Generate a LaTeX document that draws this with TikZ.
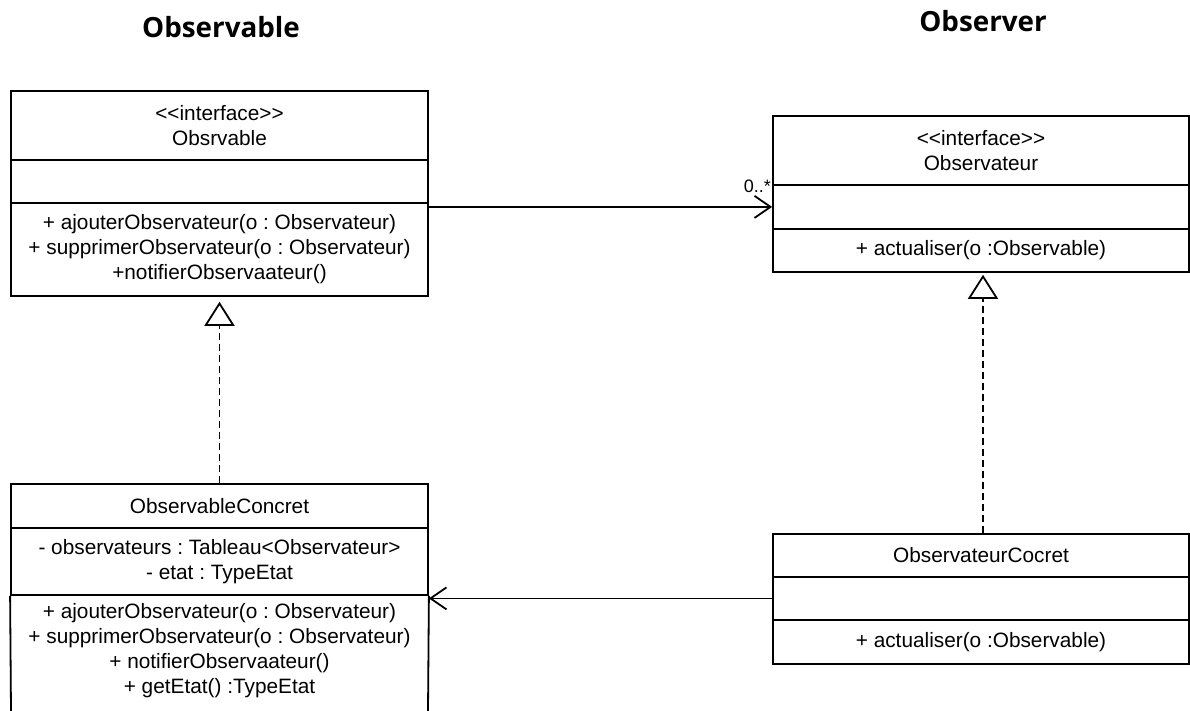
\documentclass[tikz,border=0pt]{standalone}
\usepackage{fontspec}
\setmainfont{Liberation Sans}
\newfontfamily\titlefont{Open Sans}
\usetikzlibrary{arrows.meta,calc}
\frenchspacing
\tikzset{
  comp/.style={draw, line width=1.8pt, inner sep=0pt, align=center, anchor=north,
    font=\fontsize{20.8}{25}\selectfont},
  wideL/.style={minimum width=417pt},
  wideR/.style={minimum width=416pt},
  txt/.style={inner sep=0pt, align=center, font=\fontsize{20.8}{25}\selectfont},
  ttl/.style={font=\titlefont\bfseries\fontsize{27.8}{30}\selectfont, inner sep=0pt},
  assoc/.style={line width=1.8pt, -{Straight Barb[length=16pt,width=22pt,line width=1.8pt]}},
  realize/.style={line width=1.8pt, dash pattern=on 7pt off 4pt,
    -{Triangle[open,length=24pt,width=30pt,line width=1.8pt]}},
  mult/.style={inner sep=0pt, font=\fontsize{18}{18}\selectfont}
}
\begin{document}
\begin{tikzpicture}[x=1pt,y=-1pt]
\useasboundingbox (0,0) rectangle (1190,711);
% titles
\node[ttl] (t1) at (221,27) {Observable};
\node[ttl] (t2) at (983,21) {Observer};
% top-left interface
\node[comp,wideL,minimum height=69pt] (tlName) at (219.5,90) {<\kern0pt<interface>\kern0pt>\\Obsrvable};
\node[comp,wideL,minimum height=43pt] (tlAttr) at (219.5,159) {};
\node[comp,wideL,minimum height=93pt] (tlOps) at (219.5,202)
  {+ ajouterObservateur(o : Observateur)\\+ supprimerObservateur(o : Observateur)\\+notifierObservaateur()};
% top-right interface
\node[comp,wideR,minimum height=69pt] (trName) at (981,115) {<\kern0pt<interface>\kern0pt>\\Observateur};
\node[comp,wideR,minimum height=44pt] (trAttr) at (981,184) {};
\node[comp,wideR,minimum height=43pt] (trOps) at (981,228) {+ actualiser(o :Observable)};
% bottom-left concrete
\node[comp,wideL,minimum height=44pt] (blName) at (219.5,483) {ObservableConcret};
\node[comp,wideL,minimum height=67pt] (blAttr) at (219.5,527)
  {- observateurs : Tableau<Observateur>\\- etat : TypeEtat};
\node[txt] (blOps) at (219.5,651)
  {+ ajouterObservateur(o : Observateur)\\+ supprimerObservateur(o : Observateur)\\+ notifierObservaateur()\\+ getEtat() :TypeEtat};
\coordinate (blL) at (11,711);
\coordinate (blR) at (428,711);
\draw[line width=1.8pt] (blAttr.south west) -- (blL);
\draw[line width=1.8pt] (blAttr.south east) -- (blR);
% bottom-right concrete
\node[comp,wideR,minimum height=43pt] (brName) at (981,533) {ObservateurCocret};
\node[comp,wideR,minimum height=43pt] (brAttr) at (981,576) {};
\node[comp,wideR,minimum height=44pt] (brOps) at (981,619) {+ actualiser(o :Observable)};
% connectors
\draw[assoc] (tlOps.east |- trAttr.west) -- (trAttr.west);
\node[mult, anchor=base east] (m1) at ($(trAttr.north west)+(-1,9)$) {0..*};
\draw[assoc] (brAttr.west) -- (brAttr.west -| blAttr.east);
\draw[realize, shorten >=5pt] (blName.north) -- (tlOps.south);
\draw[realize, shorten >=2pt] ([xshift=2pt]brName.north) -- ([xshift=2pt]trOps.south);
\end{tikzpicture}
\end{document}
